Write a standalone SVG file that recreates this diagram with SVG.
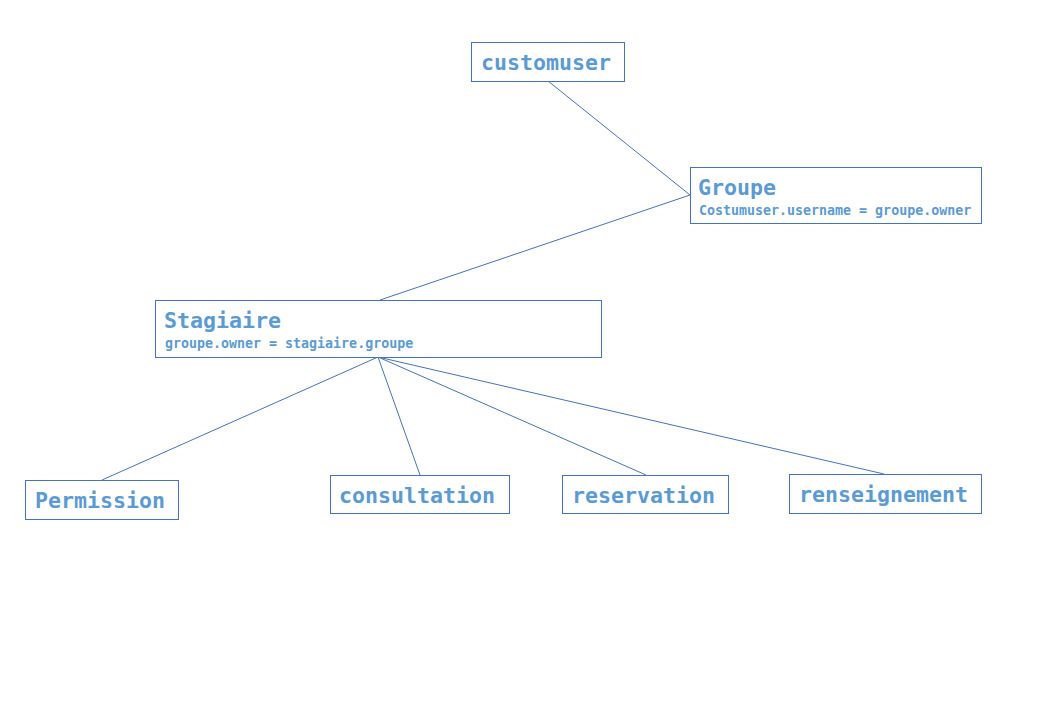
<svg xmlns="http://www.w3.org/2000/svg" width="1040" height="720" viewBox="0 0 1040 720">
<style>
.box{fill:#fff;stroke:#4472C4;stroke-width:1}
.t{font-family:"DejaVu Sans Mono","Liberation Mono",monospace;font-weight:bold;fill:#5B9BD5;font-size:21.6px}
.s{font-family:"DejaVu Sans Mono","Liberation Mono",monospace;font-weight:bold;fill:#5B9BD5;font-size:13.3px}
.c{stroke:#4472C4;stroke-width:1;fill:none}
</style>
<rect width="1040" height="720" fill="#fff"/>
<g id="connectors">
<line class="c" x1="548" y1="81" x2="690" y2="195"/>
<line class="c" x1="690" y1="195" x2="380" y2="300"/>
<line class="c" x1="378" y1="357" x2="102" y2="480"/>
<line class="c" x1="378" y1="357" x2="420" y2="475"/>
<line class="c" x1="378" y1="357" x2="646" y2="475"/>
<line class="c" x1="378" y1="357" x2="884" y2="474"/>
</g>
<g id="customuser">
<rect class="box" x="471.5" y="42.5" width="153" height="39"/>
<text class="t" x="481" y="70">customuser</text>
</g>
<g id="groupe">
<rect class="box" x="690.5" y="167.5" width="291" height="56"/>
<text class="t" x="698" y="195">Groupe</text>
<text class="s" x="699" y="215">Costumuser.username = groupe.owner</text>
</g>
<g id="stagiaire">
<rect class="box" x="155.5" y="300.5" width="446" height="57"/>
<text class="t" x="164" y="328">Stagiaire</text>
<text class="s" x="165" y="348">groupe.owner = stagiaire.groupe</text>
</g>
<g id="permission">
<rect class="box" x="25.5" y="480.5" width="153" height="39"/>
<text class="t" x="35" y="508">Permission</text>
</g>
<g id="consultation">
<rect class="box" x="330.5" y="475.5" width="179" height="38"/>
<text class="t" x="339" y="503">consultation</text>
</g>
<g id="reservation">
<rect class="box" x="562.5" y="475.5" width="166" height="38"/>
<text class="t" x="572" y="503">reservation</text>
</g>
<g id="renseignement">
<rect class="box" x="789.5" y="474.5" width="192" height="39"/>
<text class="t" x="799" y="502">renseignement</text>
</g>
</svg>
